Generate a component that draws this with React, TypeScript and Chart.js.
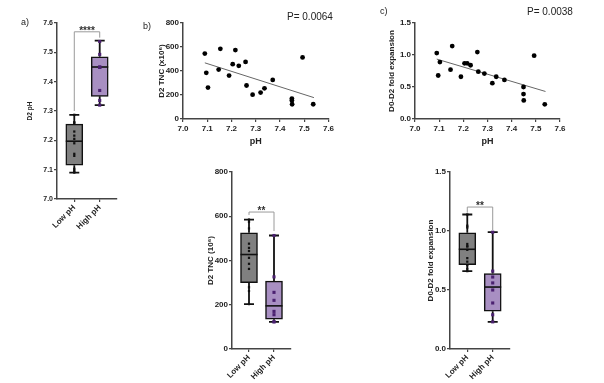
import React, { useEffect, useRef } from 'react';
import { Chart, registerables } from 'chart.js';
Chart.register(...registerables);

const FONT = "'Liberation Sans', Arial, Helvetica, sans-serif";

// ---------- data ----------
const groupLabels = ['Low pH', 'High pH'];

// samples (same index = same sample)
const phLow = [7.09, 7.096, 7.103, 7.147, 7.154, 7.19, 7.205, 7.216, 7.23, 7.258, 7.262, 7.287];
const tncLow = [545, 385, 262, 412, 585, 362, 457, 574, 443, 476, 279, 203];
const foldLow = [1.03, 0.68, 0.89, 0.77, 1.14, 0.66, 0.87, 0.87, 0.84, 1.045, 0.74, 0.71];

const phHigh = [7.32, 7.336, 7.37, 7.449, 7.449, 7.45, 7.493, 7.537];
const tncHigh = [220, 256, 326, 170, 155, 123, 513, 123];
const foldHigh = [0.56, 0.66, 0.61, 0.5, 0.39, 0.29, 0.99, 0.23];

// box stats: [min, q1, median, q3, max]
const phBoxLow = [7.09, 7.115, 7.197, 7.255, 7.287];
const phBoxHigh = [7.32, 7.35, 7.45, 7.485, 7.54];
const tncBoxLow = [203, 300, 427, 525, 585];
const tncBoxHigh = [123, 135, 195, 307, 513];
const foldBoxLow = [0.66, 0.715, 0.845, 0.985, 1.14];
const foldBoxHigh = [0.23, 0.32, 0.525, 0.64, 0.99];

// significance brackets: [left leg end, top, right leg end]
const phBracket = [7.3, 7.57, 7.55];
const tncBracket = [606, 619, 533];
const foldBracket = [1.155, 1.203, 1.008];

// regression lines (endpoints)
const fitX = [7.09, 7.54];
const tncFitY = [468, 178];
const foldFitY = [0.936, 0.43];

const LOW_FILL = '#808080';
const HIGH_FILL = '#a88fc2';
const HIGH_PT = '#4b2170';
const AXIS = '#444';

function axisCommon(tickSize: number) {
  return {
    grid: { display: true, drawOnChartArea: false, drawTicks: true, tickLength: 3, color: AXIS, lineWidth: 1.2, offset: false },
    border: { display: true, color: AXIS, width: 1.5 },
    ticks: { padding: 1, color: '#222', font: { family: FONT, size: tickSize, weight: 'bold' } },
  };
}

function makeBoxPlugin(boxes: number[][], bracket: number[], stars: string) {
  return {
    id: 'boxWhiskers',
    afterDatasetDraw(chart: any, args: any) {
      if (args.index !== 0) return;
      const { ctx } = chart;
      const x = chart.scales.x;
      const y = chart.scales.y;
      const meta = chart.getDatasetMeta(0);
      ctx.save();
      boxes.forEach((b, i) => {
        const cx = x.getPixelForValue(i);
        const [mn, , md, , mx] = b.map((v) => y.getPixelForValue(v));
        const q1 = y.getPixelForValue(b[1]);
        const q3 = y.getPixelForValue(b[3]);
        ctx.strokeStyle = '#111';
        ctx.lineWidth = 1.8;
        ctx.beginPath();
        ctx.moveTo(cx, mx); ctx.lineTo(cx, q3);
        ctx.moveTo(cx, q1); ctx.lineTo(cx, mn);
        ctx.moveTo(cx - 5, mx); ctx.lineTo(cx + 5, mx);
        ctx.moveTo(cx - 5, mn); ctx.lineTo(cx + 5, mn);
        ctx.stroke();
        const bar = meta.data[i];
        const half = bar.width / 2;
        ctx.lineWidth = 1.6;
        ctx.beginPath();
        ctx.moveTo(cx - half, md); ctx.lineTo(cx + half, md);
        ctx.stroke();
      });
      ctx.restore();
    },
    afterDatasetsDraw(chart: any) {
      const { ctx } = chart;
      const x = chart.scales.x;
      const y = chart.scales.y;
      const xl = x.getPixelForValue(0);
      const xr = x.getPixelForValue(1);
      const yl = y.getPixelForValue(bracket[0]);
      const yt = y.getPixelForValue(bracket[1]);
      const yr = y.getPixelForValue(bracket[2]);
      ctx.save();
      ctx.strokeStyle = '#9a9a9a';
      ctx.lineWidth = 1;
      ctx.beginPath();
      ctx.moveTo(xl, yl); ctx.lineTo(xl, yt); ctx.lineTo(xr, yt); ctx.lineTo(xr, yr);
      ctx.stroke();
      ctx.fillStyle = '#333';
      ctx.font = `bold 10px ${FONT}`;
      ctx.textAlign = 'center';
      ctx.textBaseline = 'alphabetic';
      ctx.fillText(stars, (xl + xr) / 2, yt + 2);
      ctx.restore();
    },
  };
}

interface BoxOpts {
  lowVals: number[]; highVals: number[]; lowBox: number[]; highBox: number[];
  bracket: number[]; stars: string;
  yMin: number; yMax: number; yStep: number; decimals: number;
  yTitle: string; titleSize: number; tickSize: number;
  yW: number; xH: number; padTop: number; padRight: number; xMin: number; xMax: number;
}

function boxConfig(o: BoxOpts): any {
  const xa: any = axisCommon(8);
  const ya: any = axisCommon(o.tickSize);
  return {
    type: 'bar',
    data: {
      datasets: [
        {
          type: 'bar',
          data: [{ x: 0, y: [o.lowBox[1], o.lowBox[3]] }, { x: 1, y: [o.highBox[1], o.highBox[3]] }],
          backgroundColor: [LOW_FILL, HIGH_FILL],
          borderColor: '#111', borderWidth: 1.5, borderSkipped: false, barThickness: 17, order: 2,
        },
        {
          type: 'scatter',
          data: o.lowVals.map((v) => ({ x: 0, y: v })),
          pointStyle: 'rect', pointRadius: 1.6, backgroundColor: '#111', borderWidth: 0, order: 1,
        },
        {
          type: 'scatter',
          data: o.highVals.map((v) => ({ x: 1, y: v })),
          pointStyle: 'rect', pointRadius: 2.2, backgroundColor: HIGH_PT, borderWidth: 0, order: 1,
        },
      ],
    },
    options: {
      responsive: false, animation: false, devicePixelRatio: 1, events: [],
      layout: { padding: { top: o.padTop, right: o.padRight, left: 0, bottom: 0 } },
      plugins: { legend: { display: false }, tooltip: { enabled: false } },
      scales: {
        x: {
          ...xa, type: 'linear', offset: false, min: o.xMin, max: o.xMax,
          afterBuildTicks: (s: any) => { s.ticks = [{ value: 0 }, { value: 1 }]; },
          afterFit: (s: any) => { s.height = o.xH; },
          ticks: {
            ...xa.ticks, autoSkip: false, minRotation: 45, maxRotation: 45, padding: 1,
            callback: (v: number) => groupLabels[v],
          },
        },
        y: {
          ...ya, type: 'linear', min: o.yMin, max: o.yMax, beginAtZero: false,
          afterFit: (s: any) => { s.width = o.yW; },
          ticks: { ...ya.ticks, stepSize: o.yStep, callback: (v: number) => v.toFixed(o.decimals) },
          title: {
            display: true, text: o.yTitle, color: '#222', padding: { top: 2, bottom: 0 },
            font: { family: FONT, size: o.titleSize, weight: 'bold' },
          },
        },
      },
    },
    plugins: [makeBoxPlugin([o.lowBox, o.highBox], o.bracket, o.stars)],
  };
}

interface ScatOpts {
  ys: number[]; fitY: number[]; yMax: number; yStep: number; decimals: number;
  yTitle: string; yW: number; xH: number; padTop: number; padRight: number;
}

function scatterConfig(o: ScatOpts): any {
  const phAll = [...phLow, ...phHigh];
  const xa: any = axisCommon(8);
  const ya: any = axisCommon(8);
  return {
    type: 'scatter',
    data: {
      datasets: [
        {
          data: phAll.map((p, i) => ({ x: p, y: o.ys[i] })),
          backgroundColor: '#000', pointRadius: 2.4, borderWidth: 0, order: 1,
        },
        {
          type: 'line',
          data: fitX.map((v, i) => ({ x: v, y: o.fitY[i] })),
          borderColor: '#666', borderWidth: 1, pointRadius: 0, fill: false, order: 2,
        },
      ],
    },
    options: {
      responsive: false, animation: false, devicePixelRatio: 1, events: [],
      layout: { padding: { top: o.padTop, right: o.padRight, left: 0, bottom: 0 } },
      plugins: { legend: { display: false }, tooltip: { enabled: false } },
      scales: {
        x: {
          ...xa, type: 'linear', min: 7.0, max: 7.6,
          afterFit: (s: any) => { s.height = o.xH; },
          ticks: { ...xa.ticks, padding: 2, stepSize: 0.1, maxRotation: 0, callback: (v: number) => v.toFixed(1) },
          title: {
            display: true, text: 'pH', color: '#222', padding: { top: 1, bottom: 3 },
            font: { family: FONT, size: 9, weight: 'bold' },
          },
        },
        y: {
          ...ya, type: 'linear', min: 0, max: o.yMax,
          afterFit: (s: any) => { s.width = o.yW; },
          ticks: { ...ya.ticks, stepSize: o.yStep, callback: (v: number) => v.toFixed(o.decimals) },
          title: {
            display: true, text: o.yTitle, color: '#222', padding: { top: 2, bottom: 0 },
            font: { family: FONT, size: 8, weight: 'bold' },
          },
        },
      },
    },
  };
}

function Panel({ left, top, width, height, make }: { left: number; top: number; width: number; height: number; make: () => any }) {
  const ref = useRef<HTMLCanvasElement | null>(null);
  useEffect(() => {
    if (!ref.current) return;
    const chart = new Chart(ref.current, make());
    return () => chart.destroy();
  }, []);
  return (
    <div style={{ position: 'absolute', left, top, width, height }}>
      <canvas ref={ref} width={width} height={height} style={{ width, height, display: 'block' }} />
    </div>
  );
}

function Label({ left, top, size, text }: { left: number; top: number; size: number; text: string }) {
  return (
    <div style={{ position: 'absolute', left, top, fontFamily: FONT, fontSize: size, lineHeight: 1, color: '#222', whiteSpace: 'nowrap' }}>
      {text}
    </div>
  );
}

export default function App() {
  return (
    <div style={{ position: 'absolute', left: 0, top: 0, width: 604, height: 383, background: '#fff', overflow: 'hidden' }}>
      <Panel left={24} top={0} width={100} height={270} make={() => boxConfig({
        lowVals: phLow, highVals: phHigh, lowBox: phBoxLow, highBox: phBoxHigh,
        bracket: phBracket, stars: '****', yMin: 7.0, yMax: 7.6, yStep: 0.1, decimals: 1,
        yTitle: 'D2 pH', titleSize: 6.5, tickSize: 7, yW: 33, xH: 71, padTop: 23, padRight: 7, xMin: -0.68, xMax: 1.68,
      })} />
      <Panel left={155} top={0} width={185} height={150} make={() => scatterConfig({
        ys: [...tncLow, ...tncHigh], fitY: tncFitY, yMax: 800, yStep: 200, decimals: 0,
        yTitle: 'D2 TNC (x10\u2076)', yW: 28, xH: 31, padTop: 23, padRight: 11.5,
      })} />
      <Panel left={385} top={0} width={190} height={150} make={() => scatterConfig({
        ys: [...foldLow, ...foldHigh], fitY: foldFitY, yMax: 1.5, yStep: 0.5, decimals: 1,
        yTitle: 'D0-D2 fold expansion', yW: 30, xH: 31, padTop: 23, padRight: 15,
      })} />
      <Panel left={204} top={150} width={100} height={233} make={() => boxConfig({
        lowVals: tncLow, highVals: tncHigh, lowBox: tncBoxLow, highBox: tncBoxHigh,
        bracket: tncBracket, stars: '**', yMin: 0, yMax: 800, yStep: 200, decimals: 0,
        yTitle: 'D2 TNC (10\u2076)', titleSize: 8, tickSize: 8, yW: 28, xH: 34, padTop: 22, padRight: 13, xMin: -0.68, xMax: 1.68,
      })} />
      <Panel left={424} top={150} width={100} height={233} make={() => boxConfig({
        lowVals: foldLow, highVals: foldHigh, lowBox: foldBoxLow, highBox: foldBoxHigh,
        bracket: foldBracket, stars: '**', yMin: 0, yMax: 1.5, yStep: 0.5, decimals: 1,
        yTitle: 'D0-D2 fold expansion', titleSize: 8, tickSize: 8, yW: 26, xH: 34, padTop: 22, padRight: 14, xMin: -0.68, xMax: 1.68,
      })} />
      <Label left={21} top={17.5} size={9} text="a)" />
      <Label left={143} top={21.5} size={9} text="b)" />
      <Label left={380} top={6.5} size={9} text="c)" />
      <Label left={287} top={11.5} size={10} text="P= 0.0064" />
      <Label left={527} top={7} size={10} text="P= 0.0038" />
    </div>
  );
}
